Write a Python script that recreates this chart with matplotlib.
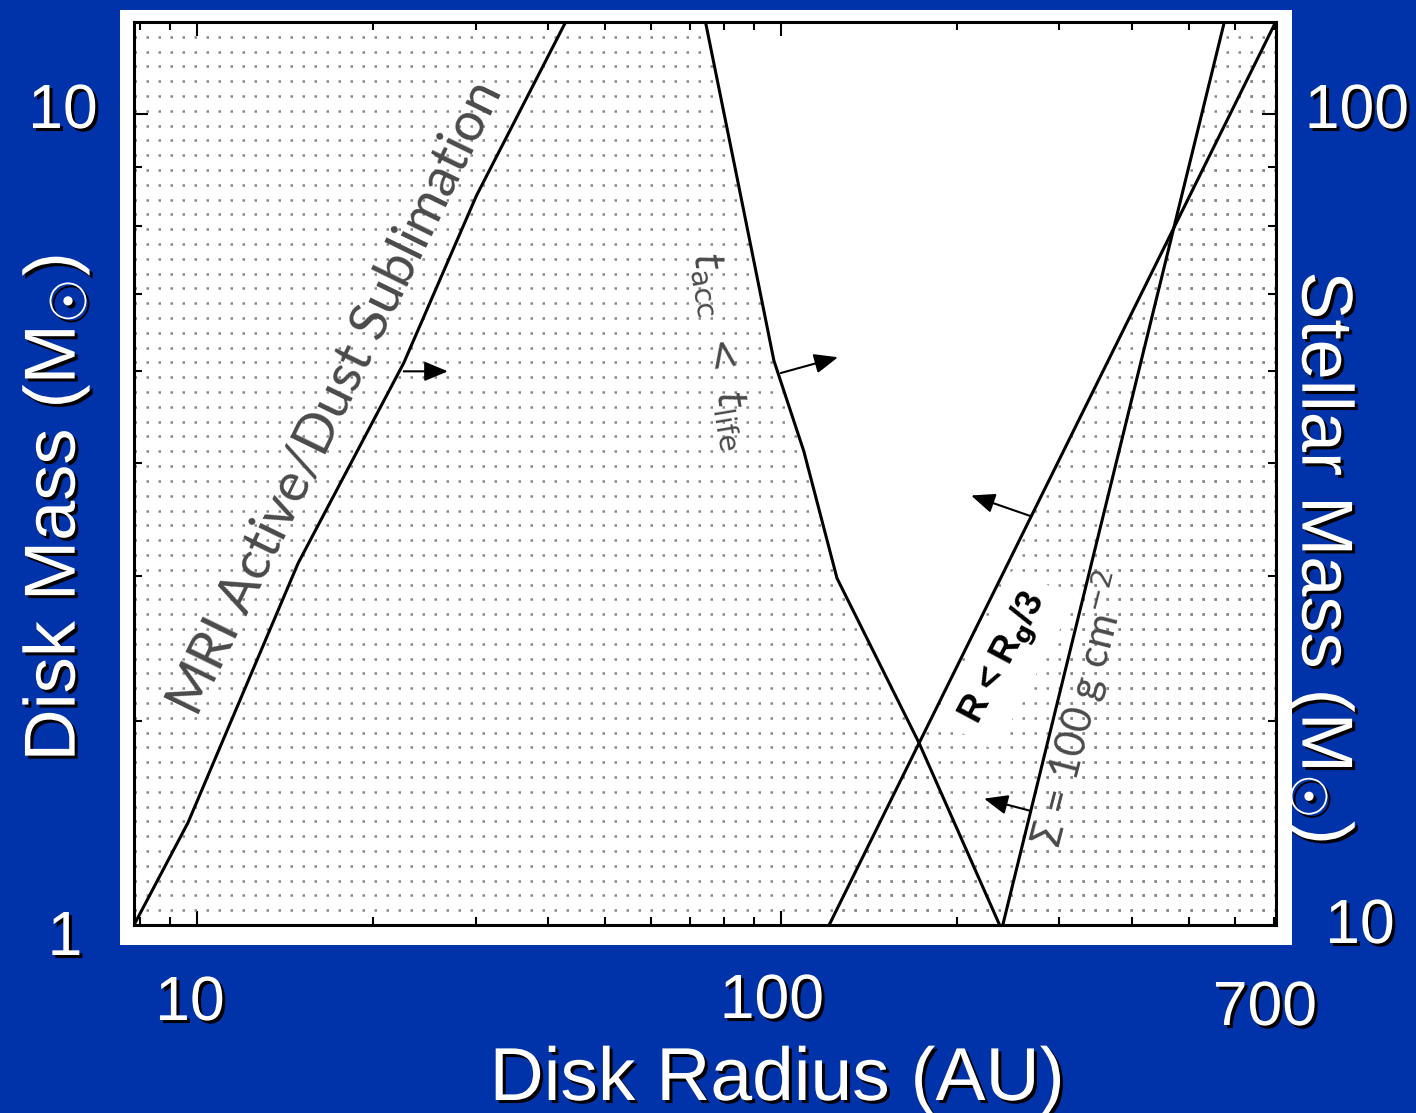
import numpy as np
import matplotlib
matplotlib.use('Agg')
import matplotlib.pyplot as plt
import matplotlib.patheffects as pe
from matplotlib.patches import Polygon, Rectangle

plt.rcParams['font.family'] = ['Liberation Sans', 'DejaVu Sans']
plt.rcParams['mathtext.fontset'] = 'dejavusans'

# limits of the plane: disk radius (AU) vs stellar mass (Msun)
r_lim = (7.8, 705)
m_lim = (20, 120)

# MRI active / dust sublimation boundary
r_mri = [7.8, 9.65, 14.9, 22.6, 30.1, 42.8]
m_mri = [20, 24.5, 41, 61, 85, 120]

# t_acc < t_life boundary
r_tacc = [74.3, 84.7, 97.3, 109.5, 124.8, 172.5, 237]
m_tacc = [120, 86.7, 61.3, 51.2, 39.8, 28.7, 20]

# R < R_g/3
r_rg = [121, 704]
m_rg = [20, 120]

# Sigma = 100 g cm^-2
r_sig = [240, 575]
m_sig = [20, 120]

# direction arrows: (tail, head)
arrows = [
    ((22.6, 60.0), (26.9, 60.0)),
    ((100.0, 59.8), (125.3, 61.7)),
    ((268.5, 45.0), (211.8, 46.9)),
    ((266.4, 25.1), (222.9, 25.7)),
]

W, H = 1416, 1113
fig = plt.figure(figsize=(W / 100, H / 100), dpi=100, facecolor='#0033aa')


def fx(px):
    return px / W


def fy(py):
    return 1 - py / H


# white panel behind the figure
fig.patches.append(Rectangle((fx(120), fy(945)), fx(1292) - fx(120), fy(10) - fy(945),
                             transform=fig.transFigure, facecolor='white',
                             edgecolor='none', zorder=1))

ax = fig.add_axes([fx(134), fy(925), fx(1276) - fx(134), fy(22) - fy(925)], zorder=2)
ax.set_xscale('log')
ax.set_yscale('log')

# dotted horizontal fill for the excluded zones
rows = np.logspace(np.log10(m_lim[0]), np.log10(m_lim[1]), 62)[1:-1]
zones = [
    list(zip(r_tacc, m_tacc)) + [(1, 20), (1, 120)],
    list(zip(r_rg, m_rg)) + [(1e4, 120), (1e4, 20)],
    list(zip(r_sig, m_sig)) + [(1e4, 120), (1e4, 20)],
]
for verts in zones:
    poly = Polygon(verts, closed=True, transform=ax.transData,
                   facecolor='none', edgecolor='none')
    ax.add_patch(poly)
    lc = ax.hlines(rows, r_lim[0], r_lim[1], colors='#888888', linewidth=1.8,
                   linestyles=[(0, (1, 3.8))], zorder=2)
    lc.set_clip_path(poly)

for r, m in [(r_mri, m_mri), (r_tacc, m_tacc), (r_rg, m_rg), (r_sig, m_sig)]:
    ax.plot(r, m, color='k', lw=2.2, zorder=3)

for tail, head in arrows:
    ax.annotate('', xy=head, xytext=tail,
                arrowprops=dict(arrowstyle='-|>,head_length=0.6,head_width=0.25',
                                mutation_scale=24, color='k', lw=1.5,
                                shrinkA=0, shrinkB=0), zorder=4)

lab = dict(ha='center', va='center', rotation_mode='anchor', color='#4a4a4a',
           family=['Lato', 'DejaVu Sans'], zorder=4)
ax.text(17.3, 57.0, 'MRI Active/Dust Sublimation', rotation=64, fontsize=39, **lab)
ax.text(79.0, 62.5, r'$t_{\rm acc}\ <\ t_{\rm life}$', rotation=-80.5, fontsize=29, **lab)
ax.text(325, 30.6, r'$\Sigma$ = 100 g cm$^{-2}$', rotation=75.5, fontsize=30, **lab)
ax.text(242, 33.9, r'R < R$_{\bf g}$/3', rotation=62, fontsize=26, fontweight='bold',
        ha='center', va='center', rotation_mode='anchor', color='k', zorder=2.5,
        bbox=dict(facecolor='white', edgecolor='none', pad=10))

ax.set_xlim(*r_lim)
ax.set_ylim(*m_lim)
ax.tick_params(which='both', direction='in', top=True, right=True,
               labelbottom=False, labelleft=False, width=1.5, color='k')
ax.tick_params(which='major', length=10)
ax.tick_params(which='minor', length=6)
for s in ax.spines.values():
    s.set_linewidth(2.2)

# slide labels
shadow = [pe.withSimplePatchShadow(offset=(2.2, -2.2), shadow_rgbFace='black', alpha=1.0)]
txt = dict(color='white', path_effects=shadow, ha='center', va='baseline')

fig.text(fx(63), fy(128), '10', fontsize=45, **txt)
fig.text(fx(65), fy(955), '1', fontsize=45, **txt)
fig.text(fx(1357), fy(128), '100', fontsize=45, **txt)
fig.text(fx(1360), fy(943), '10', fontsize=45, **txt)
fig.text(fx(190), fy(1020), '10', fontsize=45, **txt)
fig.text(fx(772), fy(1018), '100', fontsize=45, **txt)
fig.text(fx(1265), fy(1025), '700', fontsize=45, **txt)

fig.text(fx(777), fy(1100), 'Disk Radius (AU)', fontsize=54, **txt)
fig.text(fx(75), fy(508), r'Disk Mass (M$_{☉}$)', fontsize=52, rotation=90,
         rotation_mode='anchor', **txt)
fig.text(fx(1302), fy(557), r'Stellar Mass (M$_{☉}$)', fontsize=52, rotation=-90,
         rotation_mode='anchor', zorder=0.5, **txt)

fig.savefig('out.png', dpi=100, facecolor=fig.get_facecolor())
